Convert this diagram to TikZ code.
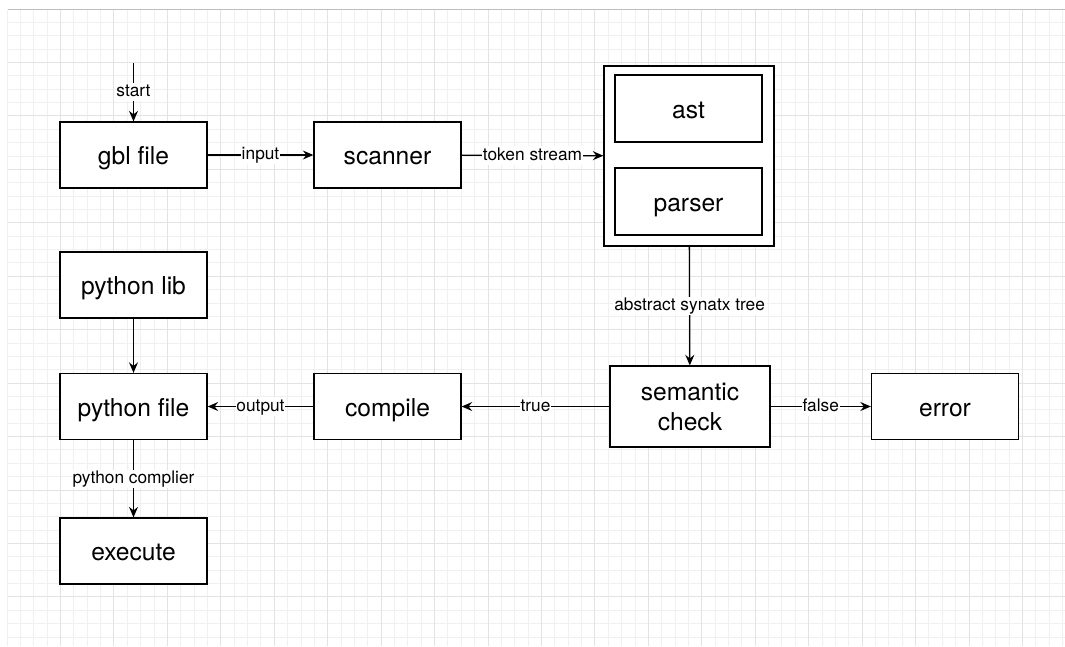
\documentclass[tikz,border=0pt]{standalone}
\usepackage{fontspec}
\setmainfont{TeX Gyre Heros}
\usetikzlibrary{arrows.meta}
\tikzset{
    box/.style={draw, rectangle, fill=white, line width=0.9pt, minimum width=3.675cm, minimum height=1.65cm, inner sep=0pt, align=center, font=\fontsize{17.5}{21.3}\selectfont},
    block/.style={box, text height=15.5pt, text depth=1.3pt},
    holder/.style={draw, rectangle, fill=white, line width=0.9pt, minimum width=4.25cm, minimum height=4.5cm, inner sep=0pt},
    flow/.style={line width=0.9pt, -{Stealth[length=7.5pt, width=6.4pt, inset=2.6pt]}},
    lbl/.style={fill=white, inner sep=0.6pt, text height=9.2pt, text depth=2.7pt, font=\fontsize{12.3}{14}\selectfont},
    minorline/.style={black!6, line width=0.6pt},
    majorline/.style={black!11, line width=0.6pt},
}

\begin{document}
\begin{tikzpicture}[x=0.025cm, y=-0.025cm]
\useasboundingbox (0,0) rectangle (1065,646);

% background grid
\foreach \i in {0,...,79} \draw[minorline] ({7+\i*13.36},9.5) -- ({7+\i*13.36},646);
\foreach \j in {0,...,47} \draw[minorline] (8,{9+\j*13.36}) -- (1065,{9+\j*13.36});
\foreach \i in {1,...,19} \draw[majorline] ({7+\i*53.44},9.5) -- ({7+\i*53.44},646);
\foreach \j in {1,...,11} \draw[majorline] (8,{9+\j*53.44}) -- (1065,{9+\j*53.44});
\draw[black!25, line width=0.8pt] (8,9.5) -- (1065,9.5);

% front end
\coordinate (start) at (133.5, 63);
\node[block] (gbl) at (133.5, 155) {gbl file};
\node[block] (scanner) at (387.5, 155) {scanner};
\node[holder] (front) at (689, 156) {};
\node[block, minimum height=1.675cm] (ast) at (688.5, 108.5) {ast};
\node[block, minimum height=1.675cm] (parser) at (688.5, 201.5) {parser};

% back end
\node[block] (pylib) at (133.5, 285) {python lib};
\node[block] (pyfile) at (133.5, 406.5) {python file};
\node[block] (compile) at (387.5, 406.5) {compile};
\node[box, minimum width=4cm, minimum height=2.025cm] (check) at (690, 406.5) {semantic\\check};
\node[block] (error) at (945, 406.5) {error};
\node[block] (execute) at (133.5, 551) {execute};

\draw[flow] (start) -- node[lbl] {start} (gbl);
\draw[flow] (gbl) -- node[lbl] {input} (scanner);
\draw[flow] (scanner) -- node[lbl] {token stream} (front);
\draw[flow] (front) -- node[lbl] {abstract synatx tree} (check);
\draw[flow] (check) -- node[lbl] {true} (compile);
\draw[flow] (check) -- node[lbl] {false} (error);
\draw[flow] (compile) -- node[lbl] {output} (pyfile);
\draw[flow] (pylib) -- (pyfile);
\draw[flow] (pyfile) -- node[lbl] {python complier} (execute);

\end{tikzpicture}
\end{document}
